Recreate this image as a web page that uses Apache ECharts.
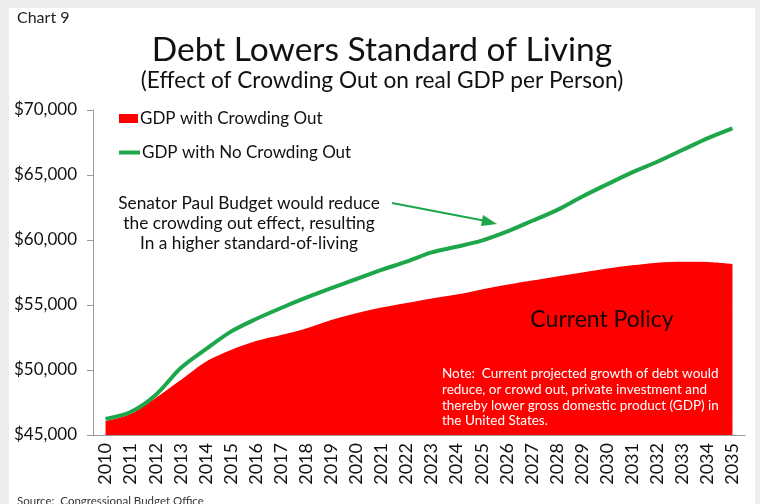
<!DOCTYPE html>
<html>
<head>
<meta charset="utf-8">
<script src="https://cdn.jsdelivr.net/npm/echarts@6/dist/echarts.min.js"></script>
<style>
body{margin:0;background:#ededed;}
#main{width:760px;height:504px;}
</style>
</head>
<body>
<div id="main"></div>
<script>
var years=['2010','2011','2012','2013','2014','2015','2016','2017','2018','2019','2020','2021','2022',
	'2023','2024','2025','2026','2027','2028','2029','2030','2031','2032','2033','2034','2035'];
// GDP per person with crowding out (current policy)
var crowding=[46080,46620,47850,49230,50640,51540,52230,52690,53200,53850,54360,54800,55150,
	55500,55800,56200,56550,56880,57200,57500,57800,58050,58250,58320,58300,58150];
// GDP per person with no crowding out
var noCrowding=[46230,46770,48080,50150,51600,52950,53920,54770,55560,56300,57000,57700,58330,
	59050,59480,59950,60640,61460,62300,63330,64280,65200,66020,66920,67820,68590];
var yTicks=[45000,70000,5000];

var font='Lato';
var myChart=echarts.init(document.getElementById('main'));
var option={
	backgroundColor:'#ededed',
	animation:false,
	textStyle:{fontFamily:font},
	grid:{left:93,right:15,top:110,bottom:69},
	legend:[
	{
		left:114,top:105,
		itemWidth:19,itemHeight:9,itemGap:10,
		icon:'rect',
		textStyle:{fontFamily:font,fontSize:17,color:'#111',padding:[0,0,0,-3]},
		data:['GDP with Crowding Out']
	},
	{
		left:114,top:139,
		itemWidth:21,itemHeight:4,
		icon:'rect',
		textStyle:{fontFamily:font,fontSize:17,color:'#111',padding:[0,0,0,-3]},
		data:['GDP with No Crowding Out']
	}],
	xAxis:{
		type:'category',
		data:years,
		boundaryGap:true,
		axisLine:{lineStyle:{color:'#9a9a9a'}},
		axisTick:{length:5,lineStyle:{color:'#9a9a9a'}},
		axisLabel:{rotate:90,interval:0,fontSize:18,color:'#111',margin:8,fontFamily:font}
	},
	yAxis:{
		type:'value',
		min:yTicks[0],max:yTicks[1],interval:yTicks[2],
		splitLine:{show:false},
		axisLine:{show:true,lineStyle:{color:'#9a9a9a'}},
		axisTick:{show:true,length:6,lineStyle:{color:'#9a9a9a'}},
		axisLabel:{fontSize:17,color:'#111',margin:16,fontFamily:font,
			formatter:function(v){return '$'+v.toLocaleString('en-US');}}
	},
	series:[
	{
		name:'GDP with Crowding Out',
		type:'line',
		data:crowding,
		smooth:0.3,
		symbol:'none',
		color:'#ff0000',
		lineStyle:{width:0},
		areaStyle:{color:'#ff0000',opacity:1}
	},
	{
		name:'GDP with No Crowding Out',
		type:'line',
		data:noCrowding,
		smooth:0.3,
		symbol:'none',
		color:'#1ea64b',
		lineStyle:{width:4,color:'#1ea64b'}
	}],
	graphic:[
	{type:'rect',z:-10,shape:{x:9,y:8,width:746,height:500},style:{fill:'#ffffff'}},
	{type:'text',left:17,top:10,style:{text:'Chart 9',fontSize:16,fill:'#222',fontFamily:font}},
	{type:'text',x:382,y:50,style:{text:'Debt Lowers Standard of Living',fontSize:33.5,fill:'#111',
		fontFamily:font,align:'center',verticalAlign:'middle'}},
	{type:'text',x:382,y:81,style:{text:'(Effect of Crowding Out on real GDP per Person)',fontSize:22.7,fill:'#111',
		fontFamily:font,align:'center',verticalAlign:'middle'}},
	{type:'text',x:249,y:193,style:{text:'Senator Paul Budget would reduce\nthe crowding out effect, resulting\nIn a higher standard-of-living',
		fontSize:17.3,lineHeight:20,fill:'#111',fontFamily:font,align:'center',verticalAlign:'top'}},
	{type:'polyline',shape:{points:[[392,203],[486,221]]},style:{stroke:'#1ea64b',lineWidth:2}},
	{type:'polygon',shape:{points:[[497,224],[483,215],[481,226]]},style:{fill:'#1ea64b'}},
	{type:'text',z:100,x:602,y:320,style:{text:'Current Policy',fontSize:23,fill:'#1a0505',fontFamily:font,
		align:'center',verticalAlign:'middle'}},
	{type:'text',z:100,x:442,y:366,style:{text:'Note:  Current projected growth of debt would\nreduce, or crowd out, private investment and\nthereby lower gross domestic product (GDP) in\nthe United States.',
		fontSize:13.5,lineHeight:15.7,fill:'#ffffff',fontFamily:font}},
	{type:'text',x:17,y:495,style:{text:'Source:  Congressional Budget Office',fontSize:11.5,fill:'#333',fontFamily:font}}
	]
};
myChart.setOption(option);
</script>
</body>
</html>
